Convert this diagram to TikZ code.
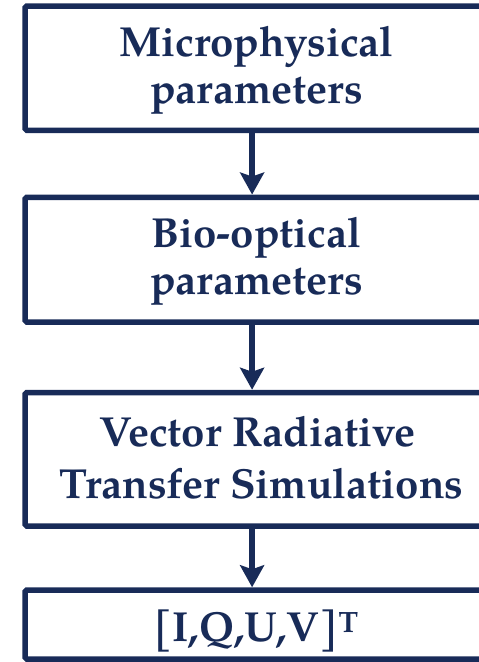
\documentclass[tikz,border=0pt]{standalone}
\usepackage{fontspec}
\setmainfont{TeX Gyre Pagella}
\usetikzlibrary{arrows.meta}
\definecolor{navy}{RGB}{24,43,88}
\begin{document}
\begin{tikzpicture}[x=1pt,y=-1pt,
  box/.style={draw=navy, line width=5.5pt, rounded corners=1.5pt, minimum width=463.8pt, inner sep=0pt},
  lbl/.style={text=navy, font=\fontsize{42}{50}\selectfont\bfseries, anchor=base, inner sep=0pt},
  arr/.style={draw=navy, line width=6.5pt, -{Stealth[length=22pt,width=24pt,inset=4pt]}}]
\clip (0,0) rectangle (479,662);
\node[box, minimum height=124.3pt] (b1) at (257.1,68.15) {};
\node[box, minimum height=124.7pt] (b2) at (257.1,259.65) {};
\node[box, minimum height=133.5pt] (b3) at (257.1,459.25) {};
\node[box, minimum height=69pt] (b4) at (257.1,624.5) {};
\node[lbl] (t1a) at (256.5,56) {Microphysical};
\node[lbl] (t1b) at (256.5,103) {parameters};
\node[lbl] (t2a) at (256.5,247.5) {Bio-optical};
\node[lbl] (t2b) at (256.5,294.5) {parameters};
\node[lbl] (t3a) at (257.5,446.7) {Vector Radiative};
\node[lbl] (t3b) at (261.5,498) {Transfer Simulations};
\node[lbl] (t4) at (256,641.7) {[I,Q,U,V]\textsuperscript{T}};
\draw[arr] ([xshift=-5pt]b1.south) -- ([xshift=-5pt]b2.north);
\draw[arr] ([xshift=-5pt]b2.south) -- ([xshift=-5pt]b3.north);
\draw[arr] ([xshift=-5pt]b3.south) -- ([xshift=-5pt]b4.north);
\end{tikzpicture}
\end{document}
